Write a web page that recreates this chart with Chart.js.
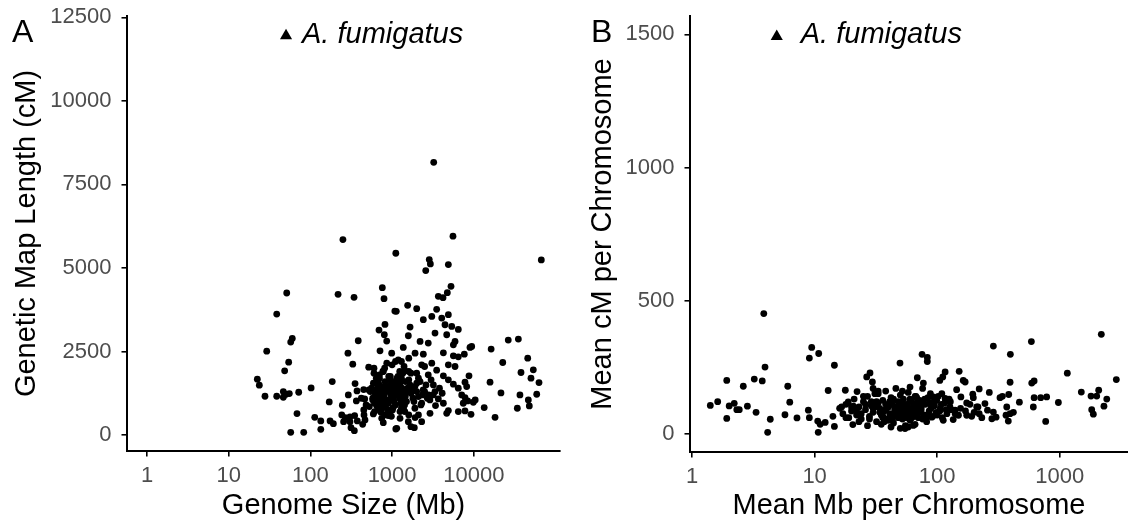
<!DOCTYPE html>
<html>
<head>
<meta charset="utf-8">
<script src="https://cdn.jsdelivr.net/npm/chart.js@4.4.0/dist/chart.umd.min.js"></script>
<style>
  html, body { margin: 0; padding: 0; background: #fff; }
  #wrap { position: relative; width: 1128px; height: 520px; }
  .panel { position: absolute; top: 0; width: 564px; height: 520px; }
  #panelA { left: 0; }
  #panelB { left: 564px; }
</style>
</head>
<body>
<div id="wrap">
  <div class="panel" id="panelA"><canvas id="chartA" width="564" height="520"></canvas></div>
  <div class="panel" id="panelB"><canvas id="chartB" width="564" height="520"></canvas></div>
</div>
<script>
// Panel A: genome size (Mb) vs genetic map length (cM)
const genomeSizeMb = [
  250, 1110, 51.3, 218, 342, 759, 796, 3230, 5560, 2850, 2940, 2580, 4880, 67000, 5260, 4740, 3680, 4200,
  1080, 38.7, 60, 57.4, 818, 691, 803, 859, 385, 29.2,
  288, 711, 988, 54.2, 330, 517, 48.4, 22.4, 23.7, 185,
  352, 102, 27.8, 38.7, 46.6, 50.3, 55.2, 46.6, 71.9, 372,
  449, 291, 170, 365, 462, 246, 579, 526, 68.5, 113,
  134, 174, 191, 242, 267, 305, 348, 453, 255, 305,
  375, 466, 134, 57.4, 82.8, 314, 345, 436, 589, 746,
  780, 898, 1110,
  1550, 2000, 3510, 1125, 4880, 4050, 3060, 2410, 4440, 5370,
  6460, 1660, 3350, 1580, 4660, 26400, 35100, 2200, 2770, 5890,
  5620, 9420, 8980, 16300, 1370, 1910, 2410, 4240, 5620, 6460,
  7650, 45700, 22600, 1190, 3060, 4880, 5890, 2300, 1440, 53500,
  37800, 3510, 2000, 2770, 4240, 8730, 4880, 5620, 6460, 7800,
  8180, 50100, 15800, 62800, 3350, 3190, 21500, 36700, 58900, 7110,
  7800, 9860, 10400, 7430, 8410, 46500, 47800, 13400, 34100, 3680,
  4240, 4880, 4660, 6460, 7800, 9240, 18200, 2910, 2300, 1910,
  1580, 1700, 1870, 1140,
  600, 640, 680, 720, 760, 800, 850, 900, 950, 1000,
  620, 660, 700, 740, 780, 820, 870, 920, 970, 1020,
  1060, 1100, 1150, 1200, 1250, 1300, 1350, 1400, 1450, 1500,
  580, 610, 650, 690, 730, 770, 810, 860, 910, 960,
  1010, 1070, 1120, 1170, 1230, 1280, 1330, 1380, 1430, 1480,
  560, 590, 630, 670, 710, 750, 790, 830, 880, 930,
  980, 1030, 1080, 1130, 1180, 1240, 1300, 1360, 1420, 1550,
  1600, 1700, 1800, 1900, 2000, 2100, 2200, 2400, 2600, 2800,
  860, 1040, 760, 940, 1190, 700, 1320, 1460, 1010, 880,
  1300, 1600, 2500, 3000, 1700, 3200, 2900, 2300, 1900, 1600, 1250, 2100, 3400, 3800, 4100,
  420, 480, 540, 610, 690, 780, 880, 1000, 1150, 1300,
  1450, 1650, 1850, 2100, 2350, 450, 520, 600, 700, 820,
  950, 1100, 1250, 1400, 1600, 1800, 2000, 2250, 2500, 2700
];
const mapLengthCM = [
  5850, 5440, 4250, 4210, 4120, 4410, 4080, 8160, 5950, 5250, 5120, 4920, 5100, 5240, 4450, 4260, 4150, 4110,
  3710, 3620, 2890, 2780, 3310, 3140, 3000, 2810, 2820, 2510,
  2450, 2520, 2450, 2180, 2120, 2030, 1920, 1670, 1490, 1600,
  1540, 1410, 1160, 1160, 1300, 1220, 1240, 1130, 1280, 1320,
  1360, 1200, 990, 1020, 1080, 890, 1100, 850, 640, 530,
  420, 420, 340, 600, 520, 540, 580, 600, 400, 400,
  420, 450, 170, 80, 80, 220, 130, 320, 630, 500,
  370, 580, 180,
  3880, 3780, 3760, 3700, 3600, 3500, 3550, 3450, 3300, 3250,
  3160, 3230, 3050, 2970, 3000, 2840, 2870, 2800, 2750, 2800,
  2700, 2650, 2620, 2570, 2620, 2450, 2420, 2460, 2370, 2340,
  2420, 2300, 2170, 2250, 2150, 2100, 2050, 2100, 1920, 1950,
  1870, 1940, 1850, 1800, 1770, 1770, 1650, 1520, 1400, 1580,
  1450, 1700, 1580, 1570, 1300, 1200, 1260, 1200, 1220, 1200,
  1120, 980, 1050, 950, 1020, 1050, 870, 820, 800, 1080,
  950, 730, 650, 700, 720, 620, 530, 650, 400, 520,
  400, 250, 220, 200,
  1850, 1700, 1560, 1420, 1300, 1180, 1050, 950, 1500, 1350,
  1250, 1120, 1010, 900, 820, 1600, 1450, 1320, 1200, 1100,
  1000, 900, 1250, 1400, 1550, 1700, 1850, 2050, 1150, 1000,
  1050, 950, 870, 760, 680, 1900, 2000, 2150, 1750, 1650,
  1550, 1450, 1350, 1200, 1100, 950, 850, 780, 700, 1300,
  1400, 1550, 1350, 1480, 1250, 1100, 980, 870, 760, 640,
  560, 820, 1200, 1600, 1750, 1900, 1250, 1050, 900, 1400,
  1650, 1250, 1100, 1450, 1300, 1150, 1600, 1350, 1500, 1200,
  1300, 1280, 1450, 1050, 1500, 1700, 1400, 1600, 750, 620,
  2200, 2300, 2050, 1650, 1850, 1500, 1050, 950, 800, 600, 500, 600, 880, 1400, 1250,
  1100, 900, 1300, 700, 1500, 1900, 650, 2100, 1700, 800,
  1250, 1500, 1000, 1700, 1200, 750, 1350, 2000, 1800, 600,
  1750, 2200, 700, 1000, 1900, 1350, 1550, 900, 1300, 1100
];

// Panel B: mean Mb per chromosome vs mean cM per chromosome
const mbPerChrom = [
  3.85, 3.94, 1.92, 2.62, 3.22, 3.74, 1.41, 1.62, 2.01, 2.21,
  2.32, 2.43, 2.83, 3.33, 1.92, 4.35, 4.14, 6.04, 6.27, 5.73,
  7.18, 9.47, 9.06, 10.8, 14.5, 8.89, 9.06, 10.6, 11.1, 12.2,
  10.7, 12.9, 14.1, 17.8, 22.2, 20.5, 14.5, 16.6, 18.8, 20.7,
  26.6, 28.3, 29.6, 49.7, 2180, 2890, 287, 586, 395, 75.2,
  83, 83, 151, 116, 111, 105, 163, 169, 68.8, 77.1,
  1151, 393, 590, 617, 1497, 2075, 1796, 2000, 2415, 2290,
  1820, 1877, 973, 617, 698, 781, 608, 767, 468, 383,
  325, 340, 266, 220, 195, 197, 174, 144, 156, 369,
  418, 393, 364, 380, 287, 302, 279, 245, 257, 210,
  220, 231, 174, 191, 127, 140, 149, 116, 109, 92.9,
  99, 68, 60, 54.6, 63.8, 90.2, 112, 135, 30, 33,
  16, 17, 18, 19, 20, 21, 22, 23, 24, 25,
  26, 27, 28, 29, 30, 31, 32, 33, 34, 35,
  36, 37, 38, 39, 40, 41, 42, 43, 44, 45,
  46, 47, 48, 49, 50, 51, 52, 53, 54, 55,
  56, 57, 58, 59, 60, 62, 64, 66, 68, 70,
  72, 74, 76, 78, 80, 82, 84, 86, 88, 90,
  92, 95, 98, 102, 106, 110, 115, 120, 125, 130,
  27, 35, 42, 50, 58, 66, 38, 44, 52, 60,
  33, 47, 55, 63, 71, 79, 87, 23, 29, 36,
  18, 20, 22, 24, 26, 28, 30, 32, 34, 36,
  38, 40, 42, 44, 46, 48, 50, 52, 54, 56,
  58, 60, 62, 64, 66, 68, 70, 72, 74, 76,
  45, 55, 65, 75, 85, 95, 105, 25, 31, 37,
  41, 43, 49, 53, 57, 61, 67, 73, 81, 89,
  100, 108, 118, 128, 140, 155, 170, 185, 200, 215
];
const cmPerChrom = [
  451, 250, 200, 178, 205, 198, 106, 120, 104, 114,
  90, 90, 103, 80, 57, 54, 5, 178, 118, 71,
  59, 324, 284, 301, 257, 88, 60, 47, 35, 42,
  5, 162, 65, 163, 158, 34, 27, 100, 119, 103,
  213, 228, 194, 265, 373, 203, 329, 346, 298, 298,
  286, 271, 234, 232, 213, 200, 200, 194, 210, 190,
  227, 193, 190, 198, 156, 163, 141, 141, 130, 103,
  90, 73, 117, 135, 135, 138, 100, 46, 118, 147,
  135, 140, 155, 168, 148, 135, 115, 165, 138, 100,
  80, 75, 69, 47, 81, 62, 56, 113, 88, 100,
  75, 60, 69, 65, 100, 88, 69, 132, 150, 138,
  125, 135, 125, 19, 31, 62, 50, 53, 170, 160,
  95, 75, 110, 60, 85, 130, 70, 100, 55, 120,
  90, 140, 65, 105, 80, 150, 45, 115, 95, 70,
  125, 85, 160, 55, 100, 75, 135, 110, 40, 90,
  170, 65, 120, 80, 145, 100, 55, 130, 85, 30,
  110, 70, 155, 95, 50, 120, 80, 140, 100, 60,
  125, 90, 170, 70, 110, 45, 135, 85, 150, 100,
  65, 120, 80, 140, 95, 60, 115, 75, 130, 90,
  30, 35, 25, 20, 25, 35, 110, 130, 160, 175,
  150, 100, 60, 95, 105, 130, 115, 45, 120, 60,
  60, 100, 90, 75, 110, 55, 95, 120, 80, 65,
  90, 50, 110, 70, 95, 60, 80, 115, 70, 100,
  85, 130, 60, 105, 75, 90, 120, 80, 100, 55,
  75, 90, 65, 120, 70, 105, 85, 140, 100, 45,
  120, 60, 90, 70, 105, 80, 140, 115, 60, 95,
  70, 110, 90, 120, 75, 95, 85, 110, 80, 100
];

// A. fumigatus reference marker (x, y) for each panel
const fumigatusA = [50.3, 11950];
const fumigatusB = [4.91, 1492];

const xTicksA = [1, 10, 100, 1000, 10000];
const yTicksA = [0, 2500, 5000, 7500, 10000, 12500];
const xTicksB = [1, 10, 100, 1000];
const yTicksB = [0, 500, 1000, 1500];

const FONT = '"Liberation Sans", Arial, Helvetica, sans-serif';

const annotate = {
    id: 'annotate',
    afterDatasetsDraw(chart, args, opts) {
        const ctx = chart.ctx;
        ctx.save();
        ctx.fillStyle = '#000';
        ctx.textBaseline = 'alphabetic';
        ctx.textAlign = 'left';
        ctx.font = '32px ' + FONT;
        ctx.fillText(opts.letter, opts.letterX, opts.letterY);
        // label next to the triangle marker
        const m = chart.getDatasetMeta(1).data[0];
        ctx.font = 'italic 29px ' + FONT;
        ctx.fillText('A. fumigatus', m.x + opts.textGap, m.y + 7);
        ctx.restore();
    }
};

function makePanel(id, p) {
    const ctx = document.getElementById(id).getContext('2d');
    const pts = p.xs.map((x, i) => ({ x: x, y: p.ys[i] }));

    return new Chart(ctx, {
        type: 'scatter',
        data: {
            datasets: [{
                data: pts,
                backgroundColor: '#000',
                borderWidth: 0,
                pointRadius: 3.4,
                pointHoverRadius: 3.4
            }, {
                data: [{ x: p.marker[0], y: p.marker[1] }],
                pointStyle: 'triangle',
                backgroundColor: '#000',
                borderWidth: 0,
                pointRadius: 7
            }]
        },
        options: {
            responsive: false,
            animation: false,
            events: [],
            layout: { autoPadding: false, padding: { left: 0, right: p.padRight, top: 16, bottom: 0 } },
            plugins: {
                legend: { display: false },
                tooltip: { enabled: false },
                annotate: { letter: p.letter, letterX: p.letterX, letterY: 42, textGap: p.textGap }
            },
            scales: {
                x: {
                    type: 'logarithmic',
                    min: p.xMin,
                    max: p.xMax,
                    afterBuildTicks: s => { s.ticks = p.xTicks.map(v => ({ value: v })); },
                    afterFit: s => {
                        s.height = p.xAxisHeight;
                        s.paddingLeft = 0;
                        s.paddingRight = 0;
                    },
                    grid: { display: true, drawOnChartArea: false, drawTicks: true, tickLength: 5.5, color: '#000', lineWidth: 1.6 },
                    border: { display: true, color: '#000', width: 2 },
                    ticks: {
                        color: '#4d4d4d',
                        font: { family: FONT, size: 22 },
                        padding: 6,
                        maxRotation: 0,
                        autoSkip: false,
                        callback: v => String(v)
                    },
                    title: {
                        display: true,
                        text: p.xTitle,
                        color: '#000',
                        font: { family: FONT, size: 29, lineHeight: 1 },
                        padding: { top: 4, bottom: 0 }
                    }
                },
                y: {
                    min: p.yMin,
                    max: p.yMax,
                    afterBuildTicks: s => { s.ticks = p.yTicks.map(v => ({ value: v })); },
                    afterFit: s => {
                        s.width = p.yAxisWidth;
                        s.paddingTop = 0;
                        s.paddingBottom = 0;
                    },
                    grid: { display: true, drawOnChartArea: false, drawTicks: true, tickLength: 5.5, color: '#000', lineWidth: 1.6 },
                    border: { display: true, color: '#000', width: 2 },
                    ticks: {
                        color: '#4d4d4d',
                        font: { family: FONT, size: 22 },
                        padding: 10,
                        autoSkip: false,
                        callback: v => String(v)
                    },
                    title: {
                        display: true,
                        text: p.yTitle,
                        color: '#000',
                        font: { family: FONT, size: 29, lineHeight: 1 },
                        padding: { top: p.yTitlePad, bottom: 0 }
                    }
                }
            }
        },
        plugins: [annotate]
    });
}

makePanel('chartA', {
    xs: genomeSizeMb, ys: mapLengthCM, marker: fumigatusA,
    xMin: 0.569, xMax: 113500, yMin: -479, yMax: 12540,
    xTicks: xTicksA, yTicks: yTicksA,
    xTitle: 'Genome Size (Mb)', yTitle: 'Genetic Map Length (cM)',
    padRight: 4, xAxisHeight: 69, yAxisWidth: 127, yTitlePad: 12.5,
    letter: 'A', letterX: 12, textGap: 16
});

makePanel('chartB', {
    xs: mbPerChrom, ys: cmPerChrom, marker: fumigatusB,
    xMin: 0.963, xMax: 3598, yMin: -69, yMax: 1569,
    xTicks: xTicksB, yTicks: yTicksB,
    xTitle: 'Mean Mb per Chromosome', yTitle: 'Mean cM per Chromosome',
    padRight: 0, xAxisHeight: 68, yAxisWidth: 126, yTitlePad: 24,
    letter: 'B', letterX: 27, textGap: 24
});
</script>
</body>
</html>
